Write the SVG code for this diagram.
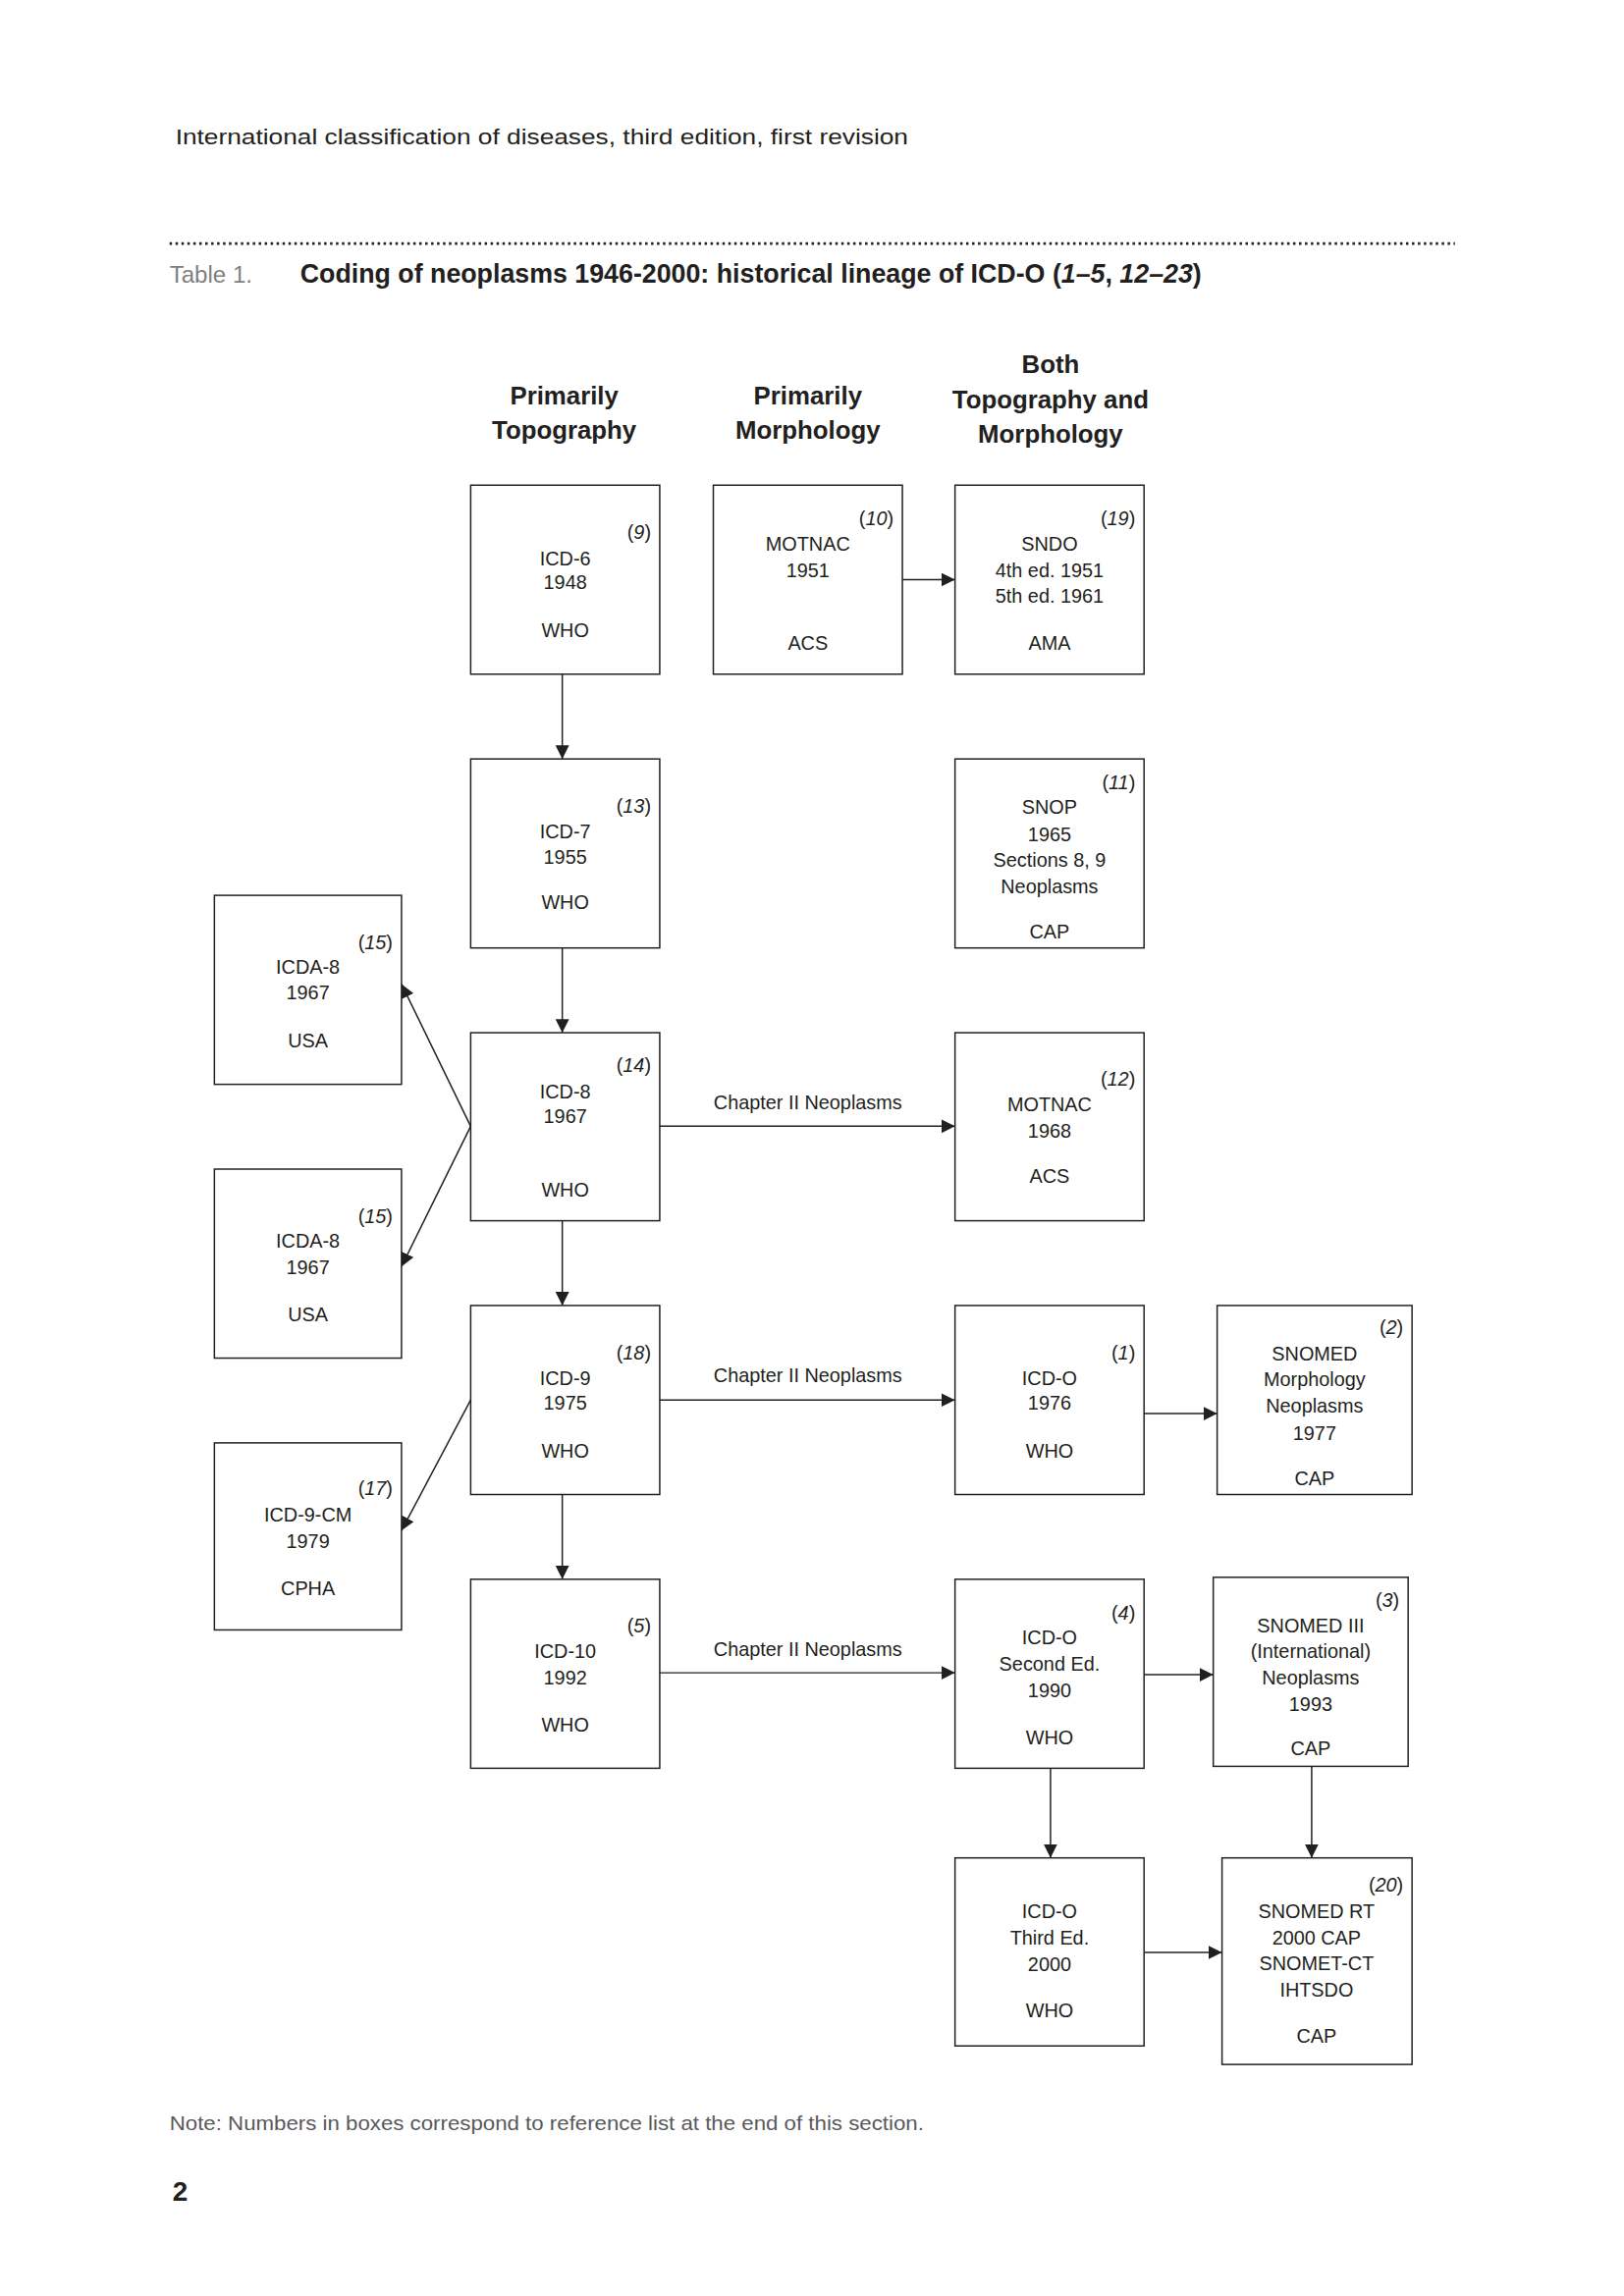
<svg xmlns="http://www.w3.org/2000/svg" width="1654" height="2339" viewBox="0 0 1654 2339">
<style>
text{font-family:"Liberation Sans",Arial,sans-serif;fill:#231f20}
.t{font-size:20px;text-anchor:middle}
.r{font-size:20px;text-anchor:end}
.h{font-size:26px;font-weight:bold;text-anchor:middle}
.box{fill:#fff;stroke:#231f20;stroke-width:1.5}
.c{stroke:#231f20;stroke-width:1.5;fill:none;marker-end:url(#ah)}
.i{font-style:italic}
</style>
<defs>
<marker id="ah" markerUnits="userSpaceOnUse" markerWidth="16" markerHeight="16" refX="14" refY="7" orient="auto">
<path d="M0,0 L14,7 L0,14 z" fill="#231f20"/>
</marker>
</defs>
<rect width="1654" height="2339" fill="#fff"/>
<g transform="scale(0.9925)">
<text x="180" y="148" style="font-size:23px" textLength="752" lengthAdjust="spacingAndGlyphs">International classification of diseases, third edition, first revision</text>
<line x1="174" y1="250" x2="1493" y2="250" stroke="#231f20" stroke-width="3" stroke-dasharray="2.5 3.6"/>
<text x="174" y="290" style="font-size:25px;fill:#808080" textLength="85" lengthAdjust="spacingAndGlyphs">Table 1.</text>
<text x="308" y="290" style="font-size:27px;font-weight:bold" textLength="925" lengthAdjust="spacingAndGlyphs">Coding of neoplasms 1946-2000: historical lineage of ICD-O (<tspan class="i">1–5</tspan>, <tspan class="i">12–23</tspan>)</text>
<g id="headings">
<text class="h" x="579" y="415">Primarily</text>
<text class="h" x="579" y="450">Topography</text>
<text class="h" x="829" y="415">Primarily</text>
<text class="h" x="829" y="450">Morphology</text>
<text class="h" x="1078" y="383">Both</text>
<text class="h" x="1078" y="419">Topography and</text>
<text class="h" x="1078" y="454">Morphology</text>
</g>
<g id="connectors">
<line class="c" x1="577" y1="692" x2="577" y2="779"/>
<line class="c" x1="577" y1="973" x2="577" y2="1060"/>
<line class="c" x1="577" y1="1253" x2="577" y2="1340"/>
<line class="c" x1="577" y1="1534" x2="577" y2="1621"/>
<line class="c" x1="1078" y1="1815" x2="1078" y2="1907"/>
<line class="c" x1="1346" y1="1813" x2="1346" y2="1907"/>
<line class="c" x1="926" y1="595" x2="980" y2="595"/>
<line class="c" x1="677" y1="1156" x2="980" y2="1156"/>
<line class="c" x1="677" y1="1437" x2="980" y2="1437"/>
<line class="c" x1="1174" y1="1451" x2="1249" y2="1451"/>
<line class="c" x1="677" y1="1717" x2="980" y2="1717"/>
<line class="c" x1="1174" y1="1719" x2="1245" y2="1719"/>
<line class="c" x1="1174" y1="2004" x2="1254" y2="2004"/>
<line class="c" x1="483" y1="1156" x2="412" y2="1010"/>
<line class="c" x1="483" y1="1156" x2="412" y2="1300"/>
<line class="c" x1="483" y1="1437" x2="412" y2="1571"/>
<text class="t" x="829" y="1139">Chapter II Neoplasms</text>
<text class="t" x="829" y="1419">Chapter II Neoplasms</text>
<text class="t" x="829" y="1700">Chapter II Neoplasms</text>
</g>
<g id="icd6">
<rect class="box" x="483" y="498" width="194" height="194"/>
<text class="r" x="668" y="553">(<tspan class="i">9</tspan>)</text>
<text class="t" x="580" y="580">ICD-6</text>
<text class="t" x="580" y="605">1948</text>
<text class="t" x="580" y="654">WHO</text>
</g>
<g id="motnac1951">
<rect class="box" x="732" y="498" width="194" height="194"/>
<text class="r" x="917" y="539">(<tspan class="i">10</tspan>)</text>
<text class="t" x="829" y="565">MOTNAC</text>
<text class="t" x="829" y="592">1951</text>
<text class="t" x="829" y="667">ACS</text>
</g>
<g id="sndo">
<rect class="box" x="980" y="498" width="194" height="194"/>
<text class="r" x="1165" y="539">(<tspan class="i">19</tspan>)</text>
<text class="t" x="1077" y="565">SNDO</text>
<text class="t" x="1077" y="592">4th ed. 1951</text>
<text class="t" x="1077" y="619">5th ed. 1961</text>
<text class="t" x="1077" y="667">AMA</text>
</g>
<g id="icd7">
<rect class="box" x="483" y="779" width="194" height="194"/>
<text class="r" x="668" y="834">(<tspan class="i">13</tspan>)</text>
<text class="t" x="580" y="860">ICD-7</text>
<text class="t" x="580" y="887">1955</text>
<text class="t" x="580" y="933">WHO</text>
</g>
<g id="snop">
<rect class="box" x="980" y="779" width="194" height="194"/>
<text class="r" x="1165" y="810">(<tspan class="i">11</tspan>)</text>
<text class="t" x="1077" y="835">SNOP</text>
<text class="t" x="1077" y="863">1965</text>
<text class="t" x="1077" y="890">Sections 8, 9</text>
<text class="t" x="1077" y="917">Neoplasms</text>
<text class="t" x="1077" y="963">CAP</text>
</g>
<g id="icda8a">
<rect class="box" x="220" y="919" width="192" height="194"/>
<text class="r" x="403" y="974">(<tspan class="i">15</tspan>)</text>
<text class="t" x="316" y="999">ICDA-8</text>
<text class="t" x="316" y="1026">1967</text>
<text class="t" x="316" y="1075">USA</text>
</g>
<g id="icd8">
<rect class="box" x="483" y="1060" width="194" height="193"/>
<text class="r" x="668" y="1100">(<tspan class="i">14</tspan>)</text>
<text class="t" x="580" y="1127">ICD-8</text>
<text class="t" x="580" y="1153">1967</text>
<text class="t" x="580" y="1228">WHO</text>
</g>
<g id="motnac1968">
<rect class="box" x="980" y="1060" width="194" height="193"/>
<text class="r" x="1165" y="1114">(<tspan class="i">12</tspan>)</text>
<text class="t" x="1077" y="1141">MOTNAC</text>
<text class="t" x="1077" y="1168">1968</text>
<text class="t" x="1077" y="1214">ACS</text>
</g>
<g id="icda8b">
<rect class="box" x="220" y="1200" width="192" height="194"/>
<text class="r" x="403" y="1255">(<tspan class="i">15</tspan>)</text>
<text class="t" x="316" y="1281">ICDA-8</text>
<text class="t" x="316" y="1308">1967</text>
<text class="t" x="316" y="1356">USA</text>
</g>
<g id="icd9">
<rect class="box" x="483" y="1340" width="194" height="194"/>
<text class="r" x="668" y="1395">(<tspan class="i">18</tspan>)</text>
<text class="t" x="580" y="1422">ICD-9</text>
<text class="t" x="580" y="1447">1975</text>
<text class="t" x="580" y="1496">WHO</text>
</g>
<g id="icdo1976">
<rect class="box" x="980" y="1340" width="194" height="194"/>
<text class="r" x="1165" y="1395">(<tspan class="i">1</tspan>)</text>
<text class="t" x="1077" y="1422">ICD-O</text>
<text class="t" x="1077" y="1447">1976</text>
<text class="t" x="1077" y="1496">WHO</text>
</g>
<g id="snomed">
<rect class="box" x="1249" y="1340" width="200" height="194"/>
<text class="r" x="1440" y="1369">(<tspan class="i">2</tspan>)</text>
<text class="t" x="1349" y="1396">SNOMED</text>
<text class="t" x="1349" y="1423">Morphology</text>
<text class="t" x="1349" y="1450">Neoplasms</text>
<text class="t" x="1349" y="1478">1977</text>
<text class="t" x="1349" y="1524">CAP</text>
</g>
<g id="icd9cm">
<rect class="box" x="220" y="1481" width="192" height="192"/>
<text class="r" x="403" y="1535">(<tspan class="i">17</tspan>)</text>
<text class="t" x="316" y="1562">ICD-9-CM</text>
<text class="t" x="316" y="1589">1979</text>
<text class="t" x="316" y="1637">CPHA</text>
</g>
<g id="icd10">
<rect class="box" x="483" y="1621" width="194" height="194"/>
<text class="r" x="668" y="1676">(<tspan class="i">5</tspan>)</text>
<text class="t" x="580" y="1702">ICD-10</text>
<text class="t" x="580" y="1729">1992</text>
<text class="t" x="580" y="1777">WHO</text>
</g>
<g id="icdo2">
<rect class="box" x="980" y="1621" width="194" height="194"/>
<text class="r" x="1165" y="1662">(<tspan class="i">4</tspan>)</text>
<text class="t" x="1077" y="1688">ICD-O</text>
<text class="t" x="1077" y="1715">Second Ed.</text>
<text class="t" x="1077" y="1742">1990</text>
<text class="t" x="1077" y="1790">WHO</text>
</g>
<g id="snomed3">
<rect class="box" x="1245" y="1619" width="200" height="194"/>
<text class="r" x="1436" y="1649">(<tspan class="i">3</tspan>)</text>
<text class="t" x="1345" y="1676">SNOMED III</text>
<text class="t" x="1345" y="1702">(International)</text>
<text class="t" x="1345" y="1729">Neoplasms</text>
<text class="t" x="1345" y="1756">1993</text>
<text class="t" x="1345" y="1802">CAP</text>
</g>
<g id="icdo3">
<rect class="box" x="980" y="1907" width="194" height="193"/>
<text class="t" x="1077" y="1969">ICD-O</text>
<text class="t" x="1077" y="1996">Third Ed.</text>
<text class="t" x="1077" y="2023">2000</text>
<text class="t" x="1077" y="2071">WHO</text>
</g>
<g id="snomedrt">
<rect class="box" x="1254" y="1907" width="195" height="212"/>
<text class="r" x="1440" y="1942">(<tspan class="i">20</tspan>)</text>
<text class="t" x="1351" y="1969">SNOMED RT</text>
<text class="t" x="1351" y="1996">2000 CAP</text>
<text class="t" x="1351" y="2022">SNOMET-CT</text>
<text class="t" x="1351" y="2049">IHTSDO</text>
<text class="t" x="1351" y="2097">CAP</text>
</g>
<text x="174" y="2186" style="font-size:21px;fill:#58595b" textLength="774" lengthAdjust="spacingAndGlyphs">Note: Numbers in boxes correspond to reference list at the end of this section.</text>
<text x="177" y="2259" style="font-size:28px;font-weight:bold">2</text>
</g>
</svg>
